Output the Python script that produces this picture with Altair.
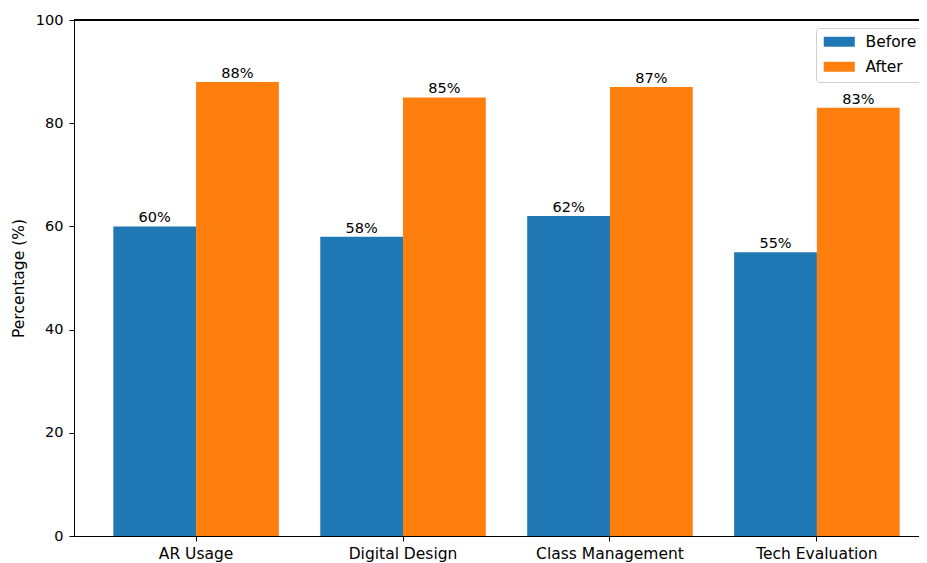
import altair as alt
import pandas as pd

categories = ["AR Usage", "Digital Design", "Class Management", "Tech Evaluation"]
before = [60, 58, 62, 55]
after = [88, 85, 87, 83]
series = ["Before", "After"]
colors = ["#1f77b4", "#ff7f0e"]
y_ticks = [0, 20, 40, 60, 80, 100]

rows = []
for c, b, a in zip(categories, before, after):
    rows.append({"category": c, "period": "Before", "value": b})
    rows.append({"category": c, "period": "After", "value": a})
df = pd.DataFrame(rows)

FONT = "DejaVu Sans"
WORD = 15.5
NUM = 14.5

x_enc = alt.X("category:N", sort=categories, title=None,
              scale=alt.Scale(range=[0, 865], paddingInner=0.2, paddingOuter=0.19),
              axis=alt.Axis(labelAngle=0, labelFontSize=WORD, labelColor="black", labelFont=FONT,
                            tickColor="black", tickSize=5, domainColor="black", labelPadding=5))
xo_enc = alt.XOffset("period:N", sort=series,
                     scale=alt.Scale(domain=series, paddingInner=0, paddingOuter=0))
y_enc = alt.Y("value:Q", title="Percentage (%)",
              scale=alt.Scale(domain=[0, 100], nice=False),
              axis=alt.Axis(values=y_ticks, grid=False, labelFontSize=NUM, labelColor="black",
                            labelFont=FONT, tickColor="black", tickSize=5, domainColor="black",
                            labelPadding=6, titleFontSize=WORD, titleFont=FONT, titleColor="black",
                            titleFontWeight="normal", titleX=-56, titleY=258, titleAngle=-90,
                            titleAlign="center", titleBaseline="middle"))

base = alt.Chart(df)

bars = base.mark_bar().encode(
    x=x_enc,
    xOffset=xo_enc,
    y=y_enc,
    color=alt.Color("period:N", sort=series,
                    scale=alt.Scale(domain=series, range=colors),
                    legend=alt.Legend(title=None, orient="none", legendX=742, legendY=8,
                                      direction="vertical",
                                      strokeColor="#d0d0d0", fillColor="white", cornerRadius=3,
                                      padding=6, labelFontSize=WORD, labelFont=FONT,
                                      labelColor="black",
                                      symbolType="M-1,-0.83H4.17V0.83H-1Z",
                                      symbolSize=144, symbolStrokeWidth=0, symbolOpacity=1,
                                      labelOffset=28, rowPadding=8)),
)

labels = base.transform_calculate(label="datum.value + '%'").mark_text(
    fontSize=NUM, font=FONT, color="black", baseline="alphabetic", dy=-4
).encode(
    x=alt.X("category:N", sort=categories),
    xOffset=alt.XOffset("period:N", sort=series),
    y="value:Q",
    text="label:N",
)

top_rule = alt.Chart(df).mark_rule(color="black", strokeWidth=1).encode(y=alt.datum(100))

chart = alt.layer(bars, labels, top_rule).properties(
    width=845, height=516,
    autosize=alt.AutoSizeParams(type="none"),
    padding={"left": 66, "top": 12, "right": 0, "bottom": 27},
).configure_view(stroke=None).configure(background="white")

chart.save("out.html", embed_options={"renderer": "svg", "actions": False})
